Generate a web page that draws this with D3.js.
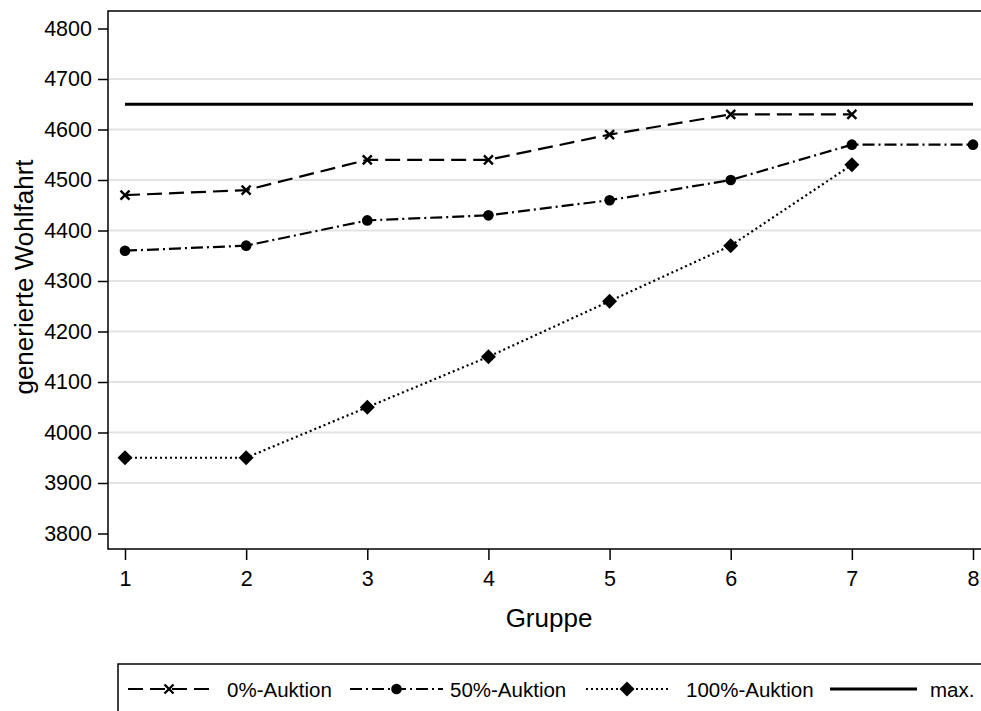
<!DOCTYPE html>
<html><head><meta charset="utf-8">
<script src="https://cdn.jsdelivr.net/npm/d3@7"></script>
<style>body{margin:0;background:#fff;} svg{display:block;font-family:"Liberation Sans",Arial,sans-serif;}</style>
</head><body>
<svg id="chart" width="981" height="711"></svg>
<script>
const groups = [1,2,3,4,5,6,7,8];
const auction0 = [4470,4480,4540,4540,4590,4630,4630];
const auction50 = [4360,4370,4420,4430,4460,4500,4570,4570];
const auction100 = [3950,3950,4050,4150,4260,4370,4530];
const maxValue = 4650;
const yTicks = [3800,3900,4000,4100,4200,4300,4400,4500,4600,4700,4800];
const gridTicks = [3900,4000,4100,4200,4300,4400,4500,4600,4700];
const legendLabels = ["0%-Auktion","50%-Auktion","100%-Auktion","max."];

const svg = d3.select("#chart");
const pLeft = 108, pTop = 11, pBottom = 549, pRight = 995;
const x = d3.scaleLinear().domain([1,8]).range([125,973]);
const y = d3.scaleLinear().domain([3800,4800]).range([533.5,28.5]);
const FONT = "Liberation Sans, Arial, sans-serif";

// grid
svg.append("g").selectAll("line").data(gridTicks).join("line")
  .attr("x1",pLeft).attr("x2",pRight).attr("y1",d=>y(d)).attr("y2",d=>y(d))
  .attr("stroke","#e3e3e3").attr("stroke-width",2);

// frame
svg.append("rect").attr("x",pLeft).attr("y",pTop).attr("width",pRight-pLeft).attr("height",pBottom-pTop)
  .attr("fill","none").attr("stroke","#000").attr("stroke-width",1.5);

// axes
const ya = svg.append("g").attr("transform",`translate(${pLeft},0)`)
  .call(d3.axisLeft(y).tickValues(yTicks).tickSize(10).tickPadding(6).tickFormat(d3.format("d")));
ya.attr("font-size",21.5).attr("font-family",FONT);
ya.select(".domain").remove();
ya.selectAll("text").attr("fill","#000");
ya.selectAll("line").attr("stroke-width",1.5);

const xa = svg.append("g").attr("transform",`translate(0,${pBottom})`)
  .call(d3.axisBottom(x).tickValues(groups).tickSize(11).tickPadding(11).tickFormat(d3.format("d")));
xa.attr("font-size",21.5).attr("font-family",FONT);
xa.select(".domain").remove();
xa.selectAll("text").attr("fill","#000");
xa.selectAll("line").attr("stroke-width",1.5);

svg.append("text").attr("x",549).attr("y",627).attr("text-anchor","middle").attr("font-size",26).text("Gruppe");
svg.append("text").attr("transform","translate(33,277) rotate(-90)").attr("text-anchor","middle").attr("font-size",26).text("generierte Wohlfahrt");

const line = d3.line().x((d,i)=>x(groups[i])).y(d=>y(d));
const styles = [
  {data:auction0, dash:"15,7", marker:"x"},
  {data:auction50, dash:"12,4,2,4", marker:"circle"},
  {data:auction100, dash:"2,3", marker:"diamond"}
];
function drawMarker(g, type, cx, cy){
  if(type==="x"){
    g.append("path").attr("d",`M${cx-4.5},${cy-4.5}L${cx+4.5},${cy+4.5}M${cx-4.5},${cy+4.5}L${cx+4.5},${cy-4.5}`)
      .attr("stroke","#000").attr("stroke-width",2.4).attr("fill","none");
  } else if(type==="circle"){
    g.append("circle").attr("cx",cx).attr("cy",cy).attr("r",5.3).attr("fill","#000");
  } else {
    g.append("path").attr("d",`M${cx},${cy-7.5}L${cx+7.5},${cy}L${cx},${cy+7.5}L${cx-7.5},${cy}Z`).attr("fill","#000");
  }
}
// max line
svg.append("line").attr("x1",x(1)).attr("x2",x(8)).attr("y1",y(maxValue)).attr("y2",y(maxValue))
  .attr("stroke","#000").attr("stroke-width",3);
styles.forEach(s=>{
  svg.append("path").datum(s.data).attr("d",line).attr("fill","none").attr("stroke","#000")
    .attr("stroke-width",2.2).attr("stroke-dasharray",s.dash);
  const g = svg.append("g");
  s.data.forEach((v,i)=>drawMarker(g,s.marker,x(groups[i]),y(v)));
});

// legend
svg.append("rect").attr("x",118).attr("y",664).attr("width",900).attr("height",80)
  .attr("fill","none").attr("stroke","#000").attr("stroke-width",1.5);
const legItems = [
  {x1:128,x2:210,tx:227,dash:"15,7",marker:"x",w:2.2},
  {x1:350,x2:443,tx:450,dash:"12,4,2,4",marker:"circle",w:2.2},
  {x1:586,x2:668,tx:686,dash:"2,3",marker:"diamond",w:2.2},
  {x1:830,x2:917,tx:930,dash:null,marker:null,w:3}
];
const ly = 689;
legItems.forEach((it,i)=>{
  const ln = svg.append("line").attr("x1",it.x1).attr("x2",it.x2).attr("y1",ly).attr("y2",ly)
    .attr("stroke","#000").attr("stroke-width",it.w);
  if(it.dash) ln.attr("stroke-dasharray",it.dash);
  if(it.marker) drawMarker(svg,it.marker,(it.x1+it.x2)/2,ly);
  svg.append("text").attr("x",it.tx).attr("y",ly+8).attr("font-size",20.5).text(legendLabels[i]);
});
</script>
</body></html>
